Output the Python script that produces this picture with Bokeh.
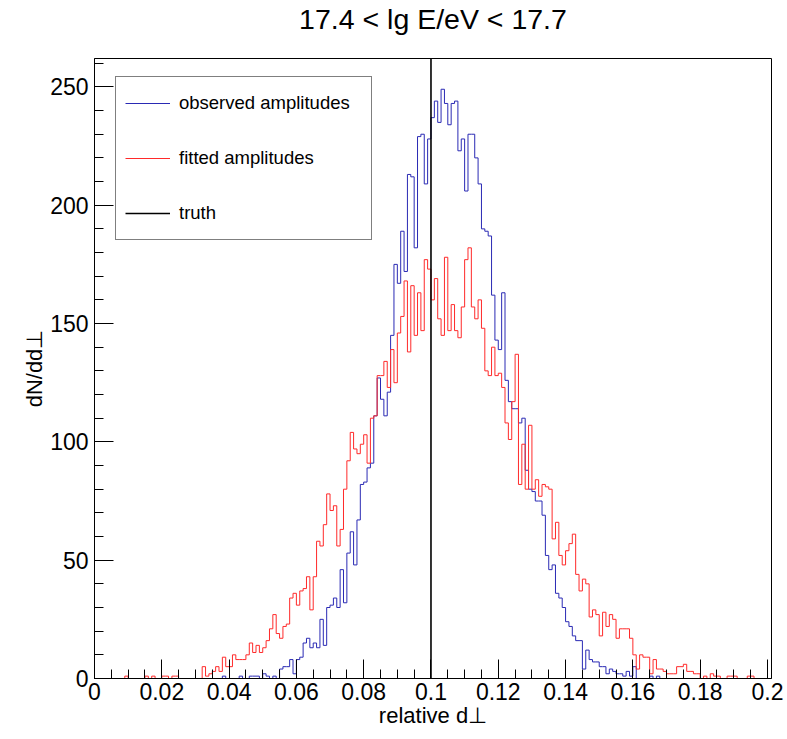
import numpy as np
from bokeh.plotting import figure
from bokeh.models import Range1d, FixedTicker, Legend, LegendItem, Title
from bokeh.embed import file_html
from bokeh.resources import INLINE

# ---------------- data ----------------
title_text = "17.4 < lg E/eV < 17.7"
x_title = "relative d⊥"
y_title = "dN/dd⊥"

x_min, x_max, n_bins = 0.0, 0.2, 200
x_axis_end = 0.2012
truth = 0.1
y_max = 262

# observed amplitudes (blue), 200 bins of width 0.001
observed = [
    0, 0, 0, 0, 0, 0, 0, 0, 0, 0,          # 0-9
    0, 0, 0, 0, 0, 0, 0, 0, 0, 0,          # 10-19
    0, 0, 0, 0, 0, 0, 0, 0, 0, 0,          # 20-29
    0, 0, 0, 0, 0, 0, 0, 0, 1, 0,          # 30-39
    0, 0, 0, 1, 0, 0, 1, 1, 1, 0,          # 40-49
    2, 1, 0, 1, 0, 4, 5, 5, 8, 2,          # 50-59
    8, 9, 15, 17, 13, 15, 13, 25, 14, 30,  # 60-69
    31, 34, 30, 46, 32, 53, 62, 48, 67, 82,  # 70-79
    83, 89, 91, 111, 127, 118, 111, 121, 145, 175,  # 80-89
    167, 189, 172, 213, 212, 182, 229, 230, 209, 228,  # 90-99
    237, 244, 235, 249, 243, 234, 243, 244, 223, 228,  # 100-109
    206, 230, 230, 220, 209, 190, 189, 187, 162, 143,  # 110-119
    139, 163, 126, 117, 114, 114, 108, 110, 88, 80,  # 120-129
    79, 75, 75, 69, 52, 46, 48, 36, 34, 30,  # 130-139
    24, 22, 18, 16, 16, 4, 12, 8, 7, 7,    # 140-149
    5, 5, 2, 4, 3, 2, 2, 1, 3, 1,          # 150-159
    5, 0, 0, 0, 0, 1, 0, 1, 0, 0,          # 160-169
    0, 0, 0, 0, 0, 0, 0, 0, 0, 0,          # 170-179
    0, 0, 0, 0, 0, 0, 0, 0, 0, 0,          # 180-189
    0, 0, 0, 0, 0, 0, 0, 0, 0, 0,          # 190-199
]

# fitted amplitudes (red)
fitted = [
    0, 0, 0, 0, 0, 0, 0, 0, 0, 1,          # 0-9
    0, 0, 0, 0, 0, 1, 0, 1, 0, 0,          # 10-19
    1, 1, 0, 1, 1, 0, 0, 0, 0, 0,          # 20-29
    0, 0, 5, 1, 2, 3, 5, 3, 9, 5,          # 30-39
    5, 10, 8, 8, 8, 10, 15, 11, 14, 11,    # 40-49
    13, 16, 21, 27, 19, 17, 22, 23, 34, 36,  # 50-59
    31, 37, 38, 43, 29, 43, 58, 56, 65, 78,  # 60-69
    71, 73, 56, 63, 80, 92, 104, 97, 95, 99,  # 70-79
    103, 91, 110, 111, 128, 128, 134, 123, 139, 125,  # 80-89
    146, 153, 168, 138, 166, 145, 163, 147, 177, 173,  # 90-99
    160, 169, 152, 145, 178, 147, 158, 147, 144, 157,  # 100-109
    177, 182, 157, 152, 160, 148, 130, 128, 140, 128,  # 110-119
    129, 123, 108, 101, 117, 137, 82, 99, 80, 107,  # 120-129
    80, 84, 77, 82, 81, 80, 59, 66, 52, 48,  # 130-139
    54, 57, 61, 44, 37, 42, 40, 26, 29, 27,  # 140-149
    18, 28, 22, 27, 25, 17, 21, 21, 21, 17,  # 150-159
    10, 4, 10, 9, 9, 2, 8, 4, 4, 3,        # 160-169
    2, 2, 2, 5, 5, 6, 3, 3, 2, 2,          # 170-179
    0, 1, 0, 2, 1, 1, 0, 0, 1, 1,          # 180-189
    1, 0, 0, 0, 1, 1, 0, 0, 0, 0,          # 190-199
]

x_ticks = [0.0, 0.02, 0.04, 0.06, 0.08, 0.1, 0.12, 0.14, 0.16, 0.18, 0.2]
x_tick_labels = ["0", "0.02", "0.04", "0.06", "0.08", "0.1",
                 "0.12", "0.14", "0.16", "0.18", "0.2"]
y_ticks = [0, 50, 100, 150, 200, 250]
y_tick_labels = ["0", "50", "100", "150", "200", "250"]

legend_labels = ["observed amplitudes", "fitted amplitudes", "truth"]

# ---------------- styling ----------------
FONT = "Liberation Sans"
BLUE = "#2a2ab4"
RED = "#ff2a2a"

edges = np.linspace(x_min, x_max, n_bins + 1)
obs_y = np.append(np.array(observed, dtype=float), observed[-1])
fit_y = np.append(np.array(fitted, dtype=float), fitted[-1])

p = figure(width=787, height=739, output_backend="svg", toolbar_location=None,
           x_range=Range1d(x_min, x_axis_end), y_range=Range1d(0, y_max),
           min_border_left=94, min_border_right=16,
           min_border_top=58, min_border_bottom=61)
p.title.text = ""
p.title.standoff = 0
# spacer (nearest the frame), then the real title above it
p.add_layout(Title(text=" ", text_font_size="12px", standoff=8), "above")
p.add_layout(Title(text=title_text, align="center", text_font=FONT,
                   text_font_size="28.5px", text_font_style="normal",
                   text_color="black", vertical_align="bottom", standoff=0), "above")
p.grid.visible = False
p.background_fill_color = "white"
p.border_fill_color = "white"
p.outline_line_color = "black"
p.outline_line_width = 1

r_obs = p.step(edges, obs_y, mode="after", line_color=BLUE, line_width=1)
r_fit = p.step(edges, fit_y, mode="after", line_color=RED, line_width=1)
r_truth = p.segment(x0=[truth], y0=[0], x1=[truth], y1=[y_max],
                    line_color="black", line_width=1.6)

# axes
xa = p.xaxis[0]
xa.ticker = FixedTicker(ticks=x_ticks,
                        minor_ticks=list(np.round(np.arange(x_min, x_max + 1e-9, 0.005), 3)))
xa.major_label_overrides = {t: s for t, s in zip(x_ticks, x_tick_labels)}
ya = p.yaxis[0]
ya.ticker = FixedTicker(ticks=y_ticks, minor_ticks=list(range(0, y_max, 10)))
ya.major_label_overrides = {t: s for t, s in zip(y_ticks, y_tick_labels)}
xa.axis_label = x_title
ya.axis_label = y_title

for ax in (xa, ya):
    ax.axis_line_color = "black"
    ax.major_tick_line_color = "black"
    ax.minor_tick_line_color = "black"
    ax.major_tick_in = 19
    ax.major_tick_out = 0
    ax.minor_tick_in = 9
    ax.minor_tick_out = 0
    ax.major_label_text_font = FONT
    ax.major_label_text_font_size = "23px"
    ax.major_label_text_color = "black"
    ax.axis_label_text_font = FONT
    ax.axis_label_text_font_size = "22px"
    ax.axis_label_text_font_style = "normal"
    ax.axis_label_text_color = "black"
xa.major_label_standoff = 4
ya.major_label_standoff = 6
xa.axis_label_standoff = 0
ya.axis_label_standoff = 0

legend = Legend(items=[LegendItem(label=legend_labels[0], renderers=[r_obs]),
                       LegendItem(label=legend_labels[1], renderers=[r_fit]),
                       LegendItem(label=legend_labels[2], renderers=[r_truth])],
                location=(21, 438), orientation="vertical",
                padding=9, spacing=21, margin=0,
                label_height=34, glyph_height=34, glyph_width=45,
                label_standoff=9, label_width=183,
                label_text_font=FONT, label_text_font_size="18.5px",
                label_text_color="black",
                border_line_color="black", border_line_width=1,
                background_fill_color="white", background_fill_alpha=1)
p.add_layout(legend)

open("out.html", "w").write(file_html(p, INLINE))
